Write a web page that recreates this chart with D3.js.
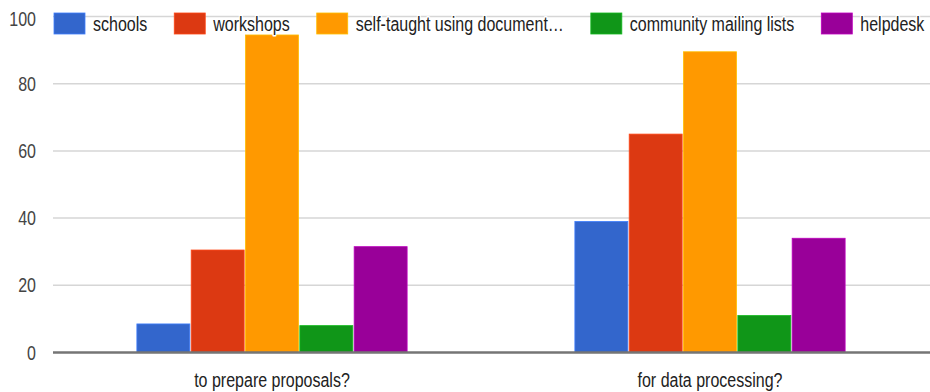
<!DOCTYPE html>
<html>
<head>
<meta charset="utf-8">
<script src="https://cdn.jsdelivr.net/npm/d3@7"></script>
<style>
  html, body { margin: 0; padding: 0; background: #fff; }
  text { font-family: "Liberation Sans", Arial, sans-serif; }
</style>
</head>
<body>
<div id="chart"></div>
<script>
const categories = ["to prepare proposals?", "for data processing?"];
const seriesNames = ["schools", "workshops", "self-taught using document…", "community mailing lists", "helpdesk"];
const colors = ["#3366cc", "#dc3912", "#ff9900", "#109618", "#990099"];

const schools = [8.5, 39];
const workshops = [30.5, 65];
const selfTaught = [94.5, 89.5];
const mailingLists = [8, 11];
const helpdesk = [31.5, 34];
const seriesValues = [schools, workshops, selfTaught, mailingLists, helpdesk];

const yTicks = [0, 20, 40, 60, 80, 100];

const width = 930, height = 392;
const textScale = 0.8; // the reference text is narrow

const svg = d3.select('#chart')
  .append('svg')
  .attr('width', width)
  .attr('height', height);

const y = d3.scaleLinear().domain([0, 100]).range([352.5, 16.5]);
const x0 = d3.scaleBand().domain(categories).range([53, 929]);
const groupW = x0.bandwidth() * 0.617;
const x1 = d3.scaleBand()
  .domain(seriesNames)
  .range([(x0.bandwidth() - groupW) / 2, (x0.bandwidth() + groupW) / 2])
  .paddingInner(0.025);

// narrow text helper
function label(parent, x, yy, str, opts) {
  const g = parent.append('g').attr('transform', `translate(${x},${yy}) scale(${textScale},1)`);
  const t = g.append('text')
    .attr('font-size', opts.size || 20)
    .attr('fill', opts.fill || '#222')
    .attr('text-anchor', opts.anchor || 'start')
    .attr('dy', opts.dy || '0.35em')
    .text(str);
  if (opts.halo) {
    t.attr('stroke', '#fff').attr('stroke-width', 3).attr('paint-order', 'stroke').attr('stroke-linejoin', 'round');
  }
  return t;
}

// gridlines
svg.append('g')
  .selectAll('line')
  .data(yTicks.filter(d => d > 0))
  .enter()
  .append('line')
  .attr('x1', 53).attr('x2', 930)
  .attr('y1', d => y(d)).attr('y2', d => y(d))
  .style('stroke', '#d6d6d6')
  .style('stroke-width', '1.5px');

// y tick labels
yTicks.forEach(t => label(svg, 36, y(t) + (t === 100 ? 2 : 0), String(t), { anchor: 'end', fill: '#444', size: 20 }));

// bars
const groups = svg.append('g')
  .selectAll('g')
  .data(categories)
  .enter()
  .append('g')
  .attr('transform', d => `translate(${x0(d)},0)`);

groups.selectAll('rect')
  .data((c, i) => seriesNames.map((s, j) => ({ s, j, v: seriesValues[j][i] })))
  .enter()
  .append('rect')
  .attr('x', d => x1(d.s))
  .attr('width', x1.bandwidth())
  .attr('y', d => y(d.v))
  .attr('height', d => y(0) - y(d.v))
  .style('fill', d => colors[d.j])
  .style('stroke', d => d3.color(colors[d.j]).brighter(0.6))
  .style('stroke-width', '0.8px');

// baseline
svg.append('line')
  .attr('x1', 53).attr('x2', 930)
  .attr('y1', y(0)).attr('y2', y(0))
  .style('stroke', '#757575')
  .style('stroke-width', '2.5px');

// category labels
categories.forEach(c => label(svg, x0(c) + x0.bandwidth() / 2, 380, c, { anchor: 'middle', fill: '#222', size: 20 }));

// legend
let lx = 54;
seriesNames.forEach((s, i) => {
  svg.append('rect')
    .attr('x', lx).attr('y', 13)
    .attr('width', 31).attr('height', 21)
    .style('fill', colors[i])
    .style('stroke', d3.color(colors[i]).brighter(0.6))
    .style('stroke-width', '0.8px');
  const t = label(svg, lx + 39, 24, s, { fill: '#222', size: 20, halo: true });
  const w = t.node().getComputedTextLength() * textScale;
  lx += 39 + w + 27;
});
</script>
</body>
</html>
